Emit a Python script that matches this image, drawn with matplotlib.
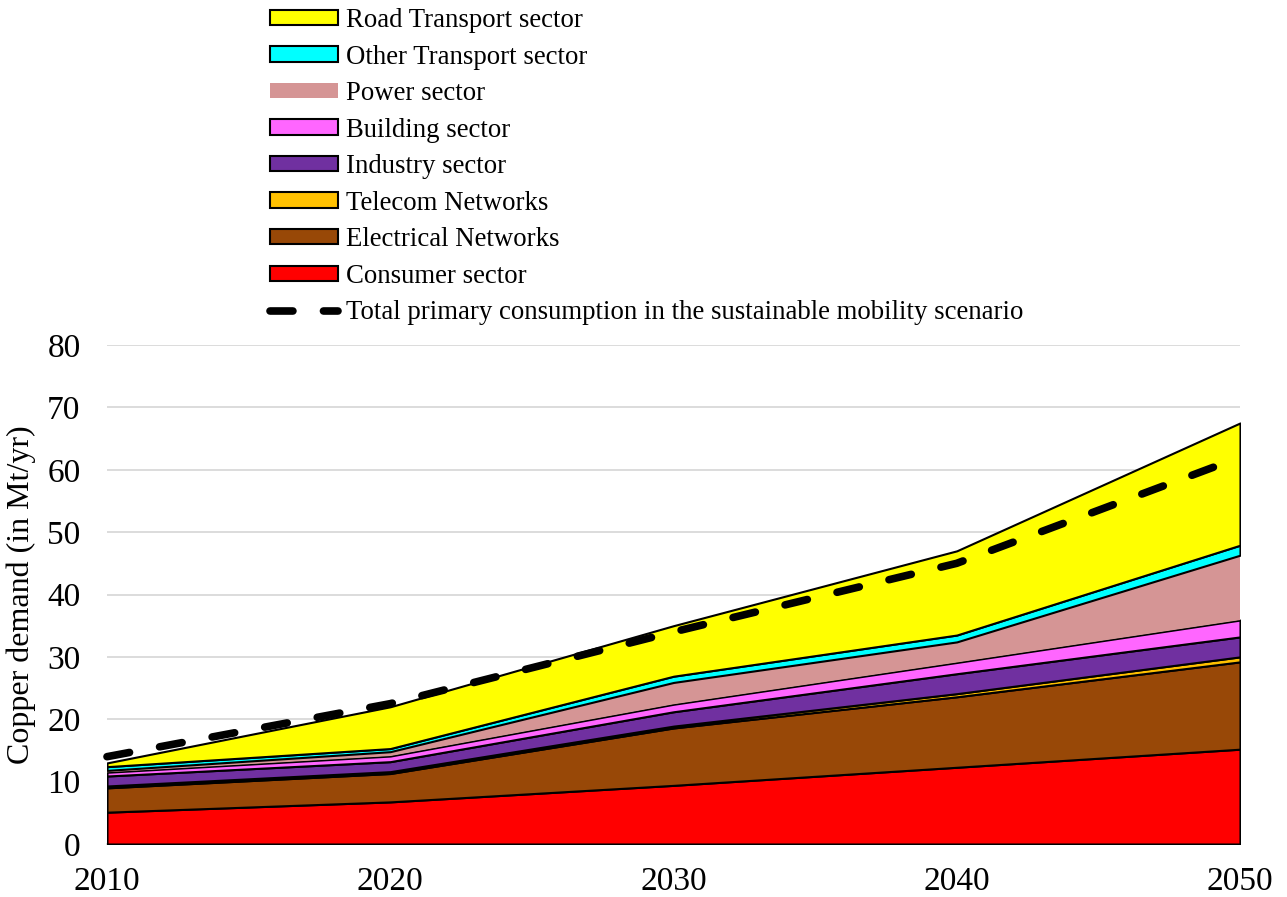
import matplotlib
matplotlib.use("Agg")
import matplotlib.pyplot as plt
from matplotlib.patches import Patch
from matplotlib.lines import Line2D

years = [2010, 2020, 2030, 2040, 2050]
consumer = [5.1, 6.75, 9.4, 12.3, 15.2]
electrical = [3.9, 4.55, 9.2, 11.3, 14.0]
telecom = [0.3, 0.3, 0.3, 0.5, 0.8]
industry = [1.6, 1.6, 2.3, 3.2, 3.2]
building = [0.6, 0.9, 1.2, 1.8, 2.7]
power = [0.3, 0.7, 3.5, 3.3, 10.4]
other_transport = [0.6, 0.5, 1.0, 1.1, 1.6]
road_transport = [0.6, 6.7, 8.1, 13.5, 19.6]
total_sustainable = [14.0, 22.5, 34.0, 45.0, 62.0]

labels = ["Consumer sector", "Electrical Networks", "Telecom Networks",
          "Industry sector", "Building sector", "Power sector",
          "Other Transport sector", "Road Transport sector"]
colors = ["#FF0000", "#984807", "#FFC000", "#7030A0", "#FF66FF",
          "#D59595", "#00FFFF", "#FFFF00"]
series = [consumer, electrical, telecom, industry, building, power,
          other_transport, road_transport]

plt.rcParams['font.family'] = ['Liberation Serif', 'DejaVu Serif']

fig = plt.figure(figsize=(12.87, 8.97), dpi=100)
ax = fig.add_axes([107/1287, 53/897, (1240-107)/1287, (844-345)/897])

polys = ax.stackplot(years, *series, colors=colors, edgecolor='black',
                     linewidth=1.5, zorder=3)
polys[5].set_edgecolor('none')

dash_line, = ax.plot(years, total_sustainable, color='black', lw=5.5,
                     linestyle=(0, (3.0, 4.0)), dash_capstyle='round',
                     zorder=5, clip_on=False)

ax.set_xlim(2010, 2050)
ax.set_ylim(0, 80)
ax.set_xticks(years)
ax.set_yticks(range(0, 81, 10))
ax.grid(axis='y', color='#D9D9D9', lw=1.3, zorder=0)
ax.set_axisbelow(True)
for s in ['top', 'right', 'left']:
    ax.spines[s].set_visible(False)
ax.spines['bottom'].set_color('#D9D9D9')
ax.spines['bottom'].set_linewidth(1.3)
ax.tick_params(axis='both', length=0, labelsize=24)
ax.tick_params(axis='x', pad=16)
ax.tick_params(axis='y', pad=19)
ax.set_ylabel("Copper demand (in Mt/yr)", fontsize=23, labelpad=8)

handles = []
for lab, col in list(zip(labels, colors))[::-1]:
    ec = 'none' if lab == "Power sector" else 'black'
    handles.append(Patch(facecolor=col, edgecolor=ec, linewidth=1.5, label=lab))
handles.append(Line2D([0], [0], color='black', lw=5.5, linestyle=(0, (3.0, 4.0)),
                      dash_capstyle='round',
                      label="Total primary consumption in the sustainable mobility scenario"))

leg = fig.legend(handles=handles, loc='upper left',
                 bbox_to_anchor=(270/1287, 1 - 8/897), frameon=False,
                 fontsize=19.3, handlelength=2.55, handleheight=0.5,
                 handletextpad=0.27, labelspacing=0.43, borderpad=0,
                 borderaxespad=0)

fig.savefig("out.png", dpi=100)
